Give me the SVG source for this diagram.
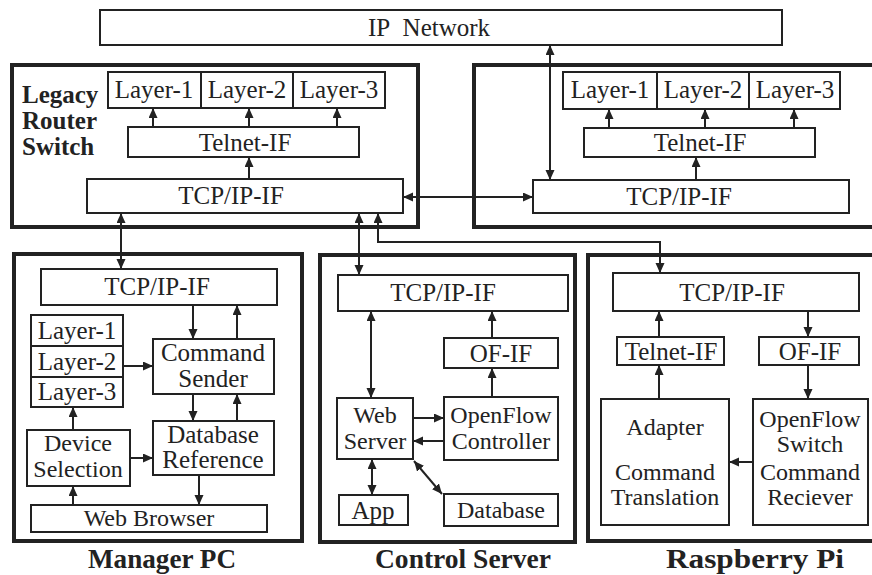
<svg xmlns="http://www.w3.org/2000/svg" width="872" height="575" viewBox="0 0 872 575">
<style>
.box{fill:#fff;stroke:#222;stroke-width:2}
.outer{fill:#fff;stroke:#222;stroke-width:4}
.t{font-family:"Liberation Serif","Times New Roman",serif;font-size:25px;fill:#222;text-anchor:middle}
.s{font-size:24px}
.lb{font-family:"Liberation Serif","Times New Roman",serif;font-weight:bold;font-size:25px;fill:#222}
.cap{font-family:"Liberation Serif","Times New Roman",serif;font-weight:bold;font-size:28px;fill:#222;text-anchor:middle}
.c{fill:none;stroke:#222;stroke-width:2}
.a{marker-end:url(#ah)}
.d{marker-start:url(#ah);marker-end:url(#ah)}
</style>
<defs>
<marker id="ah" markerUnits="userSpaceOnUse" markerWidth="11" markerHeight="10" refX="10" refY="4.5" orient="auto-start-reverse" viewBox="0 0 11 10">
<path d="M0,0 L10,4.5 L0,9 z" fill="#222"/>
</marker>
</defs>
<rect width="872" height="575" fill="#fff"/>

<g id="ip-network">
<rect class="box" x="100" y="10" width="682" height="35"/>
<text class="t" x="429" y="36">IP&#160; Network</text>
</g>

<g id="legacy-left">
<rect class="outer" x="12" y="65" width="406" height="162"/>
<text class="lb" x="22" y="103">Legacy</text>
<text class="lb" x="22" y="129">Router</text>
<text class="lb" x="22" y="155">Switch</text>
<rect class="box" x="108" y="72" width="93" height="36"/>
<text class="t" x="154" y="98">Layer-1</text>
<rect class="box" x="201" y="72" width="92" height="36"/>
<text class="t" x="247" y="98">Layer-2</text>
<rect class="box" x="293" y="72" width="92" height="36"/>
<text class="t" x="339" y="98">Layer-3</text>
<rect class="box" x="128" y="127" width="231" height="30"/>
<text class="t" x="245" y="151">Telnet-IF</text>
<rect class="box" x="87" y="179" width="316" height="34"/>
<text class="t" x="231" y="204">TCP/IP-IF</text>
</g>

<g id="legacy-right">
<rect class="outer" x="474" y="65" width="404" height="162"/>
<rect class="box" x="563" y="72" width="94" height="37"/>
<text class="t" x="610" y="98">Layer-1</text>
<rect class="box" x="657" y="72" width="92" height="37"/>
<text class="t" x="703" y="98">Layer-2</text>
<rect class="box" x="749" y="72" width="91" height="37"/>
<text class="t" x="795" y="98">Layer-3</text>
<rect class="box" x="584" y="128" width="231" height="29"/>
<text class="t" x="700" y="151">Telnet-IF</text>
<rect class="box" x="533" y="180" width="316" height="33"/>
<text class="t" x="679" y="205">TCP/IP-IF</text>
</g>

<g id="manager-pc">
<rect class="outer" x="14" y="254" width="288" height="287"/>
<rect class="box" x="41" y="269" width="236" height="36"/>
<text class="t" x="157" y="295">TCP/IP-IF</text>
<rect class="box" x="31" y="315" width="92" height="31"/>
<text class="t" x="77" y="339">Layer-1</text>
<rect class="box" x="31" y="346" width="92" height="31"/>
<text class="t" x="77" y="370">Layer-2</text>
<rect class="box" x="31" y="377" width="92" height="30"/>
<text class="t" x="77" y="400">Layer-3</text>
<rect class="box" x="153" y="339" width="121" height="55"/>
<text class="t" x="213" y="361">Command</text>
<text class="t" x="213" y="387">Sender</text>
<rect class="box" x="153" y="421" width="121" height="54"/>
<text class="t" x="213" y="443">Database</text>
<text class="t" x="213" y="468">Reference</text>
<rect class="box" x="27" y="430" width="103" height="56"/>
<text class="t s" x="78" y="451">Device</text>
<text class="t s" x="78" y="477">Selection</text>
<rect class="box" x="31" y="505" width="236" height="27"/>
<text class="t s" x="149" y="526">Web Browser</text>
<text class="cap" x="162" y="568" textLength="148" lengthAdjust="spacingAndGlyphs">Manager PC</text>
</g>

<g id="control-server">
<rect class="outer" x="320" y="255" width="255" height="287"/>
<rect class="box" x="338" y="275" width="230" height="36"/>
<text class="t" x="443" y="301">TCP/IP-IF</text>
<rect class="box" x="444" y="338" width="114" height="30"/>
<text class="t" x="501" y="362">OF-IF</text>
<rect class="box" x="444" y="397" width="114" height="63"/>
<text class="t s" x="501" y="423">OpenFlow</text>
<text class="t s" x="501" y="449">Controller</text>
<rect class="box" x="337" y="398" width="76" height="61"/>
<text class="t s" x="375" y="423">Web</text>
<text class="t s" x="375" y="449">Server</text>
<rect class="box" x="339" y="495" width="69" height="30"/>
<text class="t" x="373" y="519">App</text>
<rect class="box" x="444" y="494" width="114" height="32"/>
<text class="t s" x="501" y="518">Database</text>
<text class="cap" x="463" y="568" textLength="176" lengthAdjust="spacingAndGlyphs">Control Server</text>
</g>

<g id="raspberry-pi">
<rect class="outer" x="588" y="255" width="300" height="286"/>
<rect class="box" x="613" y="273" width="246" height="38"/>
<text class="t" x="732" y="301">TCP/IP-IF</text>
<rect class="box" x="617" y="337" width="107" height="28"/>
<text class="t" x="671" y="360">Telnet-IF</text>
<rect class="box" x="759" y="337" width="100" height="28"/>
<text class="t" x="810" y="360">OF-IF</text>
<rect class="box" x="601" y="399" width="128" height="126"/>
<text class="t s" x="665" y="435">Adapter</text>
<text class="t s" x="665" y="480">Command</text>
<text class="t s" x="665" y="505">Translation</text>
<rect class="box" x="753" y="399" width="115" height="126"/>
<text class="t s" x="810" y="427">OpenFlow</text>
<text class="t s" x="810" y="452">Switch</text>
<text class="t s" x="810" y="480">Command</text>
<text class="t s" x="810" y="505">Reciever</text>
<text class="cap" x="755" y="568" textLength="178" lengthAdjust="spacingAndGlyphs">Raspberry Pi</text>
</g>

<g id="connectors">
<line class="c a" x1="153" y1="127" x2="153" y2="108"/>
<line class="c a" x1="249" y1="127" x2="249" y2="108"/>
<line class="c a" x1="337" y1="127" x2="337" y2="108"/>
<line class="c a" x1="249" y1="179" x2="249" y2="157"/>
<line class="c a" x1="609" y1="128" x2="609" y2="109"/>
<line class="c a" x1="705" y1="128" x2="705" y2="109"/>
<line class="c a" x1="794" y1="128" x2="794" y2="109"/>
<line class="c a" x1="696" y1="180" x2="696" y2="157"/>
<line class="c d" x1="550" y1="45" x2="550" y2="180"/>
<line class="c d" x1="403" y1="197" x2="533" y2="197"/>
<line class="c d" x1="121" y1="213" x2="121" y2="269"/>
<line class="c d" x1="359" y1="213" x2="359" y2="275"/>
<polyline class="c d" points="378,213 378,242 660,242 660,273"/>
<line class="c a" x1="193" y1="305" x2="193" y2="339"/>
<line class="c a" x1="237" y1="339" x2="237" y2="305"/>
<line class="c a" x1="123" y1="366" x2="153" y2="366"/>
<line class="c a" x1="193" y1="394" x2="193" y2="421"/>
<line class="c a" x1="237" y1="421" x2="237" y2="394"/>
<line class="c a" x1="73" y1="430" x2="73" y2="407"/>
<line class="c a" x1="130" y1="458" x2="153" y2="458"/>
<line class="c a" x1="199" y1="475" x2="199" y2="505"/>
<line class="c a" x1="73" y1="505" x2="73" y2="486"/>
<line class="c d" x1="371" y1="311" x2="371" y2="398"/>
<line class="c a" x1="492" y1="338" x2="492" y2="311"/>
<line class="c a" x1="492" y1="397" x2="492" y2="368"/>
<line class="c a" x1="413" y1="418" x2="444" y2="418"/>
<line class="c a" x1="444" y1="441" x2="413" y2="441"/>
<line class="c d" x1="372" y1="459" x2="372" y2="495"/>
<line class="c d" x1="414" y1="461" x2="442" y2="494"/>
<line class="c a" x1="659" y1="337" x2="659" y2="311"/>
<line class="c a" x1="808" y1="311" x2="808" y2="337"/>
<line class="c a" x1="808" y1="365" x2="808" y2="399"/>
<line class="c a" x1="659" y1="399" x2="659" y2="365"/>
<line class="c a" x1="753" y1="462" x2="729" y2="462"/>
</g>
</svg>
